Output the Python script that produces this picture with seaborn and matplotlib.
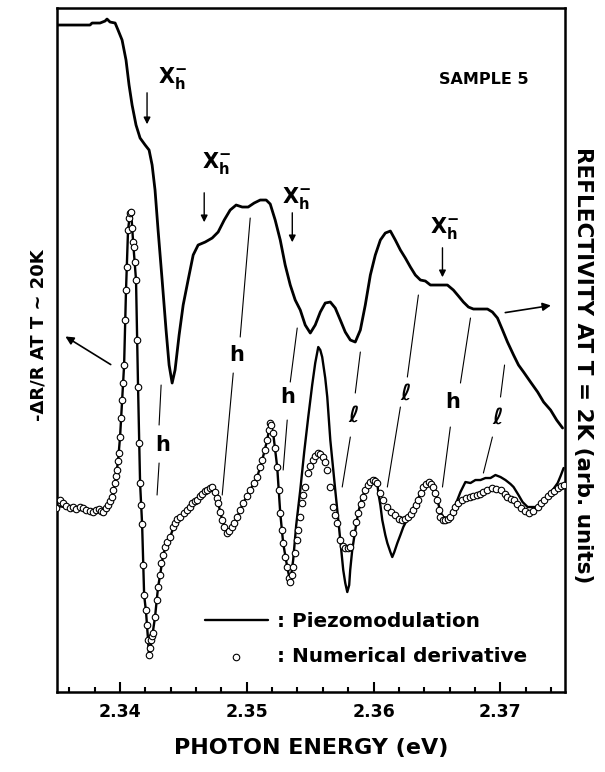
import matplotlib
matplotlib.use("Agg")
import matplotlib.pyplot as plt
import seaborn as sns

# reflectivity at T = 2K (upper curve)
refl_E = [2.33502, 2.33763, 2.33779, 2.33842, 2.33882, 2.33897, 2.33921, 2.33961, 2.33984, 2.34016,
          2.34047, 2.34071, 2.34095, 2.34126, 2.34158, 2.34198, 2.34229, 2.34253, 2.34276, 2.34300,
          2.34332, 2.34363, 2.34387, 2.34411, 2.34434, 2.34466, 2.34498, 2.34537, 2.34577, 2.34616,
          2.34672, 2.34727, 2.34774, 2.34822, 2.34869, 2.34916, 2.34964, 2.35011, 2.35058, 2.35106,
          2.35153, 2.35185, 2.35224, 2.35264, 2.35303, 2.35343, 2.35382, 2.35422, 2.35461, 2.35501,
          2.35540, 2.35580, 2.35619, 2.35659, 2.35698, 2.35738, 2.35777, 2.35817, 2.35856, 2.35896,
          2.35935, 2.35975, 2.36014, 2.36054, 2.36093, 2.36133, 2.36172, 2.36212, 2.36251, 2.36291,
          2.36330, 2.36370, 2.36409, 2.36449, 2.36528, 2.36583, 2.36630, 2.36670, 2.36709, 2.36749,
          2.36788, 2.36844, 2.36899, 2.36938, 2.36978, 2.37018, 2.37057, 2.37105, 2.37144, 2.37184,
          2.37239, 2.37295, 2.37342, 2.37397, 2.37445, 2.37492]
refl_R = [667, 667, 669, 669, 671, 673, 670, 669, 662, 652,
          632, 607, 587, 567, 554, 547, 542, 527, 502, 462,
          412, 362, 327, 309, 322, 357, 387, 412, 437, 447,
          450, 454, 460, 472, 482, 487, 485, 485, 489, 492,
          492, 488, 472, 452, 427, 407, 392, 382, 367, 359,
          367, 380, 389, 390, 384, 372, 360, 352, 350, 362,
          387, 417, 437, 452, 459, 461, 452, 442, 434, 425,
          417, 412, 411, 407, 407, 407, 402, 396, 390, 385,
          383, 383, 383, 380, 374, 362, 350, 337, 327, 320,
          310, 300, 290, 282, 272, 264]

# piezomodulation -dR/R (solid line)
piezo_E = [2.33502, 2.33565, 2.33645, 2.33724, 2.33803, 2.33866, 2.33905, 2.33937, 2.33961, 2.33984,
           2.34000, 2.34016, 2.34032, 2.34047, 2.34063, 2.34079, 2.34087, 2.34103, 2.34126, 2.34142,
           2.34158, 2.34174, 2.34190, 2.34205, 2.34221, 2.34229, 2.34237, 2.34253, 2.34276, 2.34300,
           2.34316, 2.34340, 2.34371, 2.34395, 2.34434, 2.34474, 2.34529, 2.34608, 2.34687, 2.34727,
           2.34750, 2.34774, 2.34806, 2.34845, 2.34885, 2.34924, 2.34972, 2.35027, 2.35082, 2.35122,
           2.35161, 2.35185, 2.35208, 2.35240, 2.35264, 2.35287, 2.35319, 2.35343, 2.35366, 2.35390,
           2.35422, 2.35453, 2.35485, 2.35516, 2.35540, 2.35564, 2.35580, 2.35595, 2.35619, 2.35635,
           2.35659, 2.35682, 2.35698, 2.35722, 2.35745, 2.35761, 2.35777, 2.35793, 2.35808, 2.35816,
           2.35832, 2.35856, 2.35880, 2.35911, 2.35935, 2.35959, 2.35991, 2.36014, 2.36030, 2.36038,
           2.36054, 2.36069, 2.36093, 2.36109, 2.36133, 2.36148, 2.36164, 2.36188, 2.36212, 2.36235,
           2.36275, 2.36314, 2.36354, 2.36393, 2.36425, 2.36441, 2.36472, 2.36504, 2.36528, 2.36551,
           2.36583, 2.36606, 2.36646, 2.36686, 2.36725, 2.36765, 2.36804, 2.36844, 2.36883, 2.36923,
           2.36962, 2.37002, 2.37041, 2.37081, 2.37105, 2.37144, 2.37176, 2.37216, 2.37255, 2.37295,
           2.37334, 2.37374, 2.37413, 2.37453, 2.37476, 2.37500]
piezo_dR = [186, 185, 183, 182, 181, 181, 187, 195, 209, 231,
            255, 292, 327, 402, 462, 479, 482, 450, 412, 305,
            209, 168, 97, 80, 52, 35, 42, 55, 75, 105,
            117, 137, 150, 155, 169, 175, 182, 192, 202, 206,
            200, 189, 172, 159, 165, 175, 189, 202, 215, 232,
            252, 269, 259, 225, 179, 149, 125, 110, 132, 167,
            202, 240, 275, 307, 329, 345, 342, 335, 314, 295,
            252, 222, 202, 172, 142, 122, 109, 100, 107, 122,
            142, 162, 180, 195, 202, 207, 212, 214, 209, 199,
            187, 172, 157, 149, 140, 135, 140, 149, 157, 165,
            175, 184, 194, 205, 210, 211, 205, 192, 180, 175,
            174, 176, 187, 200, 210, 209, 212, 212, 214, 214,
            217, 215, 212, 208, 205, 197, 190, 185, 185, 185,
            190, 195, 202, 209, 216, 224]

# numerical derivative of reflectivity (open circles)
deriv_E = [2.33494, 2.33526, 2.33550, 2.33573, 2.33605, 2.33629, 2.33652, 2.33684, 2.33708, 2.33731,
           2.33763, 2.33787, 2.33810, 2.33834, 2.33850, 2.33866, 2.33889, 2.33905, 2.33921, 2.33937,
           2.33945, 2.33961, 2.33968, 2.33976, 2.33984, 2.33992, 2.34000, 2.34008, 2.34016, 2.34024,
           2.34032, 2.34039, 2.34047, 2.34055, 2.34063, 2.34071, 2.34079, 2.34087, 2.34095, 2.34103,
           2.34111, 2.34119, 2.34126, 2.34134, 2.34142, 2.34150, 2.34158, 2.34166, 2.34174, 2.34182,
           2.34190, 2.34205, 2.34213, 2.34221, 2.34229, 2.34237, 2.34245, 2.34253, 2.34261, 2.34276,
           2.34292, 2.34300, 2.34316, 2.34324, 2.34340, 2.34355, 2.34371, 2.34395, 2.34419, 2.34434,
           2.34450, 2.34474, 2.34506, 2.34529, 2.34553, 2.34569, 2.34592, 2.34608, 2.34632, 2.34648,
           2.34671, 2.34687, 2.34711, 2.34727, 2.34750, 2.34766, 2.34774, 2.34790, 2.34806, 2.34822,
           2.34845, 2.34861, 2.34885, 2.34900, 2.34924, 2.34948, 2.34972, 2.35003, 2.35027, 2.35058,
           2.35082, 2.35106, 2.35122, 2.35145, 2.35161, 2.35177, 2.35185, 2.35193, 2.35208, 2.35224,
           2.35240, 2.35256, 2.35264, 2.35279, 2.35287, 2.35303, 2.35319, 2.35335, 2.35343, 2.35358,
           2.35366, 2.35382, 2.35398, 2.35406, 2.35422, 2.35437, 2.35445, 2.35461, 2.35485, 2.35501,
           2.35524, 2.35540, 2.35564, 2.35580, 2.35603, 2.35619, 2.35635, 2.35659, 2.35682, 2.35698,
           2.35714, 2.35738, 2.35761, 2.35777, 2.35801, 2.35817, 2.35840, 2.35864, 2.35880, 2.35903,
           2.35919, 2.35935, 2.35959, 2.35975, 2.35998, 2.36014, 2.36030, 2.36054, 2.36077, 2.36109,
           2.36141, 2.36172, 2.36204, 2.36227, 2.36251, 2.36275, 2.36299, 2.36314, 2.36338, 2.36354,
           2.36378, 2.36393, 2.36417, 2.36441, 2.36456, 2.36472, 2.36488, 2.36504, 2.36520, 2.36528,
           2.36551, 2.36567, 2.36591, 2.36606, 2.36630, 2.36646, 2.36670, 2.36701, 2.36733, 2.36765,
           2.36788, 2.36820, 2.36844, 2.36867, 2.36899, 2.36938, 2.36970, 2.37002, 2.37034, 2.37057,
           2.37081, 2.37105, 2.37136, 2.37160, 2.37192, 2.37224, 2.37255, 2.37295, 2.37318, 2.37342,
           2.37374, 2.37397, 2.37421, 2.37453, 2.37476, 2.37500]
deriv_dR = [184, 192, 189, 186, 184, 185, 183, 185, 184, 182,
            181, 180, 182, 183, 181, 180, 184, 187, 191, 195,
            202, 209, 216, 222, 231, 239, 255, 274, 292, 309,
            327, 372, 402, 425, 462, 474, 479, 480, 464, 450,
            445, 430, 412, 352, 305, 249, 209, 187, 168, 127,
            97, 82, 67, 52, 37, 44, 52, 56, 59, 75,
            92, 105, 117, 129, 137, 145, 150, 155, 165, 169,
            173, 175, 179, 182, 185, 189, 191, 192, 196, 198,
            201, 202, 204, 205, 200, 194, 189, 180, 172, 165,
            159, 161, 165, 169, 175, 182, 189, 196, 202, 209,
            215, 225, 232, 242, 252, 262, 269, 267, 259, 244,
            225, 202, 179, 162, 149, 135, 125, 114, 110, 117,
            125, 139, 152, 162, 175, 189, 197, 205, 219, 226,
            232, 236, 239, 238, 235, 230, 222, 205, 185, 177,
            169, 152, 146, 144, 144, 145, 159, 170, 179, 188,
            195, 202, 207, 210, 212, 211, 209, 199, 192, 185,
            180, 177, 173, 172, 173, 175, 178, 182, 187, 192,
            199, 205, 208, 210, 208, 205, 199, 192, 182, 175,
            172, 172, 173, 175, 180, 185, 189, 192, 194, 195,
            196, 197, 198, 200, 202, 204, 203, 202, 198, 195,
            193, 192, 188, 184, 181, 179, 181, 185, 189, 192,
            196, 199, 201, 204, 206, 207]

# X_h^- markers: (label x, label y, arrow x, arrow top, arrow tip)
xh_marks = [(2.34300, 609, 2.34213, 602, 565),
            (2.34648, 524, 2.34664, 502, 467),
            (2.35280, 489, 2.35359, 482, 447),
            (2.36449, 459, 2.36544, 447, 412)]

# broken guide lines with h / l labels: (upper seg, label pos, lower seg, label)
guides = [((2.34324, 307, 2.34308, 267), (2.34340, 247), (2.34308, 229, 2.34292, 197), "h"),
          ((2.35027, 474, 2.34948, 355), (2.34924, 337), (2.34893, 319, 2.34806, 197), "h"),
          ((2.35398, 364, 2.35343, 310), (2.35319, 295), (2.35319, 272, 2.35287, 222), "h"),
          ((2.35896, 340, 2.35856, 299), (2.35840, 277), (2.35817, 255, 2.35753, 205), "l"),
          ((2.36354, 397, 2.36267, 315), (2.36251, 299), (2.36212, 285, 2.36109, 205), "l"),
          ((2.36765, 374, 2.36686, 309), (2.36622, 290), (2.36606, 265, 2.36544, 205), "h"),
          ((2.37034, 327, 2.37002, 295), (2.36978, 275), (2.36938, 255, 2.36867, 219), "l")]

sns.set_style("white")
plt.rcParams["font.family"] = ["DejaVu Sans"]
plt.rcParams["font.weight"] = "bold"
plt.rcParams["mathtext.fontset"] = "dejavusans"
plt.rcParams["text.color"] = "black"
plt.rcParams["axes.labelcolor"] = "black"
plt.rcParams["xtick.color"] = "black"

fig = plt.figure(figsize=(6.05, 7.72), dpi=100)
ax = fig.add_axes([0.0937, 0.1036, 0.840, 0.886])

sns.lineplot(x=refl_E, y=refl_R, sort=False, estimator=None, color="black", lw=2.0, ax=ax)
sns.lineplot(x=piezo_E, y=piezo_dR, sort=False, estimator=None, color="black", lw=1.7, ax=ax,
             label=": Piezomodulation")
sns.scatterplot(x=deriv_E, y=deriv_dR, marker="o", s=22, facecolor="white", edgecolor="black",
                linewidth=0.8, zorder=4, ax=ax, label=": Numerical derivative")

ax.set_xlim(2.3350, 2.3751)
ax.set_ylim(0, 684)
ax.set_yticks([])
ax.set_xticks([2.34, 2.35, 2.36, 2.37])
ax.set_xticks([2.336, 2.338, 2.342, 2.344, 2.346, 2.348, 2.352, 2.354, 2.356, 2.358,
               2.362, 2.364, 2.366, 2.368, 2.372, 2.374], minor=True)
ax.set_xticklabels(["2.34", "2.35", "2.36", "2.37"], fontsize=12.5, fontweight="bold")
ax.tick_params(axis="x", which="major", direction="in", length=7, width=1.5, pad=8,
               bottom=True, top=False, colors="black")
ax.tick_params(axis="x", which="minor", direction="in", length=3.5, width=1.5,
               bottom=True, top=False, colors="black")
for sp in ax.spines.values():
    sp.set_linewidth(1.8)
    sp.set_color("black")

ax.set_xlabel("PHOTON ENERGY (eV)", fontsize=16, fontweight="bold", labelpad=12)
fig.text(0.064, 0.566, "-\u0394R/R AT T ~ 20K", rotation=90, fontsize=13, fontweight="bold",
         ha="center", va="center")
fig.text(0.964, 0.527, "REFLECTIVITY AT T = 2K (arb. units)", rotation=270, fontsize=15.5,
         fontweight="bold", ha="center", va="center")

ax.text(2.36868, 613, "SAMPLE 5", fontsize=11.5, fontweight="bold", ha="center", va="center")

for lx, ly, axx, atop, atip in xh_marks:
    ax.text(lx, ly, r"$\mathbf{X}_{\mathbf{h}}^{\mathbf{-}}$", fontsize=15, ha="left", va="baseline")
    ax.annotate("", xy=(axx, atip), xytext=(axx, atop),
                arrowprops=dict(arrowstyle="-|>", color="black", lw=1.0, mutation_scale=10))

for up, lab, lo, kind in guides:
    ax.plot([up[0], up[2]], [up[1], up[3]], color="black", lw=0.8)
    ax.plot([lo[0], lo[2]], [lo[1], lo[3]], color="black", lw=0.8)
    if kind == "h":
        ax.text(lab[0], lab[1], "h", fontsize=15, fontweight="bold", ha="center", va="center")
    else:
        ax.text(lab[0], lab[1], r"$\ell$", fontsize=16, ha="center", va="center")

ax.annotate("", xy=(2.33550, 357), xytext=(2.33945, 326),
            arrowprops=dict(arrowstyle="-|>", color="black", lw=1.2, mutation_scale=12))
ax.annotate("", xy=(2.37421, 387), xytext=(2.37018, 379),
            arrowprops=dict(arrowstyle="-|>", color="black", lw=1.2, mutation_scale=12))

ax.legend(loc="lower left", bbox_to_anchor=(0.291, 0.038), frameon=False,
          handlelength=3.15, handletextpad=0.45, labelspacing=0.8, scatterpoints=1,
          borderpad=0, borderaxespad=0, prop={"weight": "bold", "size": 14.4})

fig.savefig("out.png", dpi=100)
